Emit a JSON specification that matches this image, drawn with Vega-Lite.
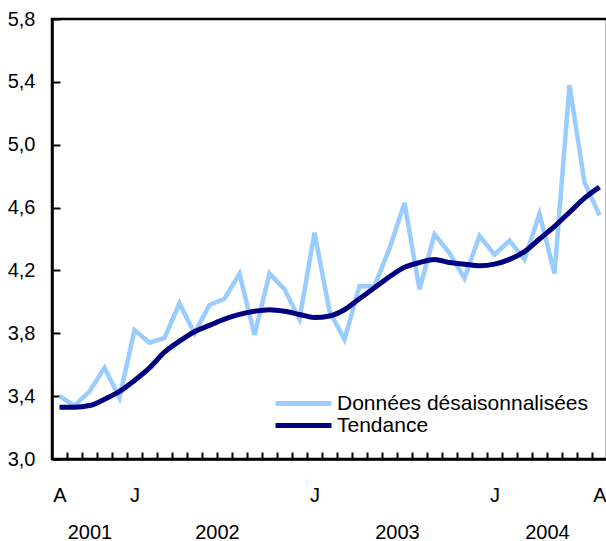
{
  "$schema": "https://vega.github.io/schema/vega-lite/v6.json",
  "autosize": "none",
  "width": 555,
  "height": 440,
  "padding": {"left": 52, "top": 19, "right": 0, "bottom": 82},
  "background": "white",
  "config": {
    "font": "Liberation Sans",
    "view": {"stroke": "black", "strokeWidth": 2.5},
    "axis": {"labelFont": "Liberation Sans", "labelColor": "black", "labelFontSize": 20, "grid": false, "title": null, "domainColor": "black", "tickColor": "black"},
    "legend": {"labelFont": "Liberation Sans"}
  },
  "data": {
    "values": [
      {"mois": "2001-08", "t": 0, "Données désaisonnalisées": 3.40, "Tendance": 3.33},
      {"mois": "2001-09", "t": 1, "Données désaisonnalisées": 3.34, "Tendance": 3.33},
      {"mois": "2001-10", "t": 2, "Données désaisonnalisées": 3.43, "Tendance": 3.34},
      {"mois": "2001-11", "t": 3, "Données désaisonnalisées": 3.58, "Tendance": 3.38},
      {"mois": "2001-12", "t": 4, "Données désaisonnalisées": 3.39, "Tendance": 3.43},
      {"mois": "2002-01", "t": 5, "Données désaisonnalisées": 3.82, "Tendance": 3.50},
      {"mois": "2002-02", "t": 6, "Données désaisonnalisées": 3.74, "Tendance": 3.58},
      {"mois": "2002-03", "t": 7, "Données désaisonnalisées": 3.77, "Tendance": 3.68},
      {"mois": "2002-04", "t": 8, "Données désaisonnalisées": 3.99, "Tendance": 3.75},
      {"mois": "2002-05", "t": 9, "Données désaisonnalisées": 3.80, "Tendance": 3.81},
      {"mois": "2002-06", "t": 10, "Données désaisonnalisées": 3.98, "Tendance": 3.85},
      {"mois": "2002-07", "t": 11, "Données désaisonnalisées": 4.02, "Tendance": 3.89},
      {"mois": "2002-08", "t": 12, "Données désaisonnalisées": 4.18, "Tendance": 3.92},
      {"mois": "2002-09", "t": 13, "Données désaisonnalisées": 3.79, "Tendance": 3.94},
      {"mois": "2002-10", "t": 14, "Données désaisonnalisées": 4.18, "Tendance": 3.95},
      {"mois": "2002-11", "t": 15, "Données désaisonnalisées": 4.08, "Tendance": 3.94},
      {"mois": "2002-12", "t": 16, "Données désaisonnalisées": 3.89, "Tendance": 3.92},
      {"mois": "2003-01", "t": 17, "Données désaisonnalisées": 4.44, "Tendance": 3.90},
      {"mois": "2003-02", "t": 18, "Données désaisonnalisées": 3.94, "Tendance": 3.91},
      {"mois": "2003-03", "t": 19, "Données désaisonnalisées": 3.76, "Tendance": 3.95},
      {"mois": "2003-04", "t": 20, "Données désaisonnalisées": 4.10, "Tendance": 4.02},
      {"mois": "2003-05", "t": 21, "Données désaisonnalisées": 4.10, "Tendance": 4.09},
      {"mois": "2003-06", "t": 22, "Données désaisonnalisées": 4.34, "Tendance": 4.16},
      {"mois": "2003-07", "t": 23, "Données désaisonnalisées": 4.63, "Tendance": 4.22},
      {"mois": "2003-08", "t": 24, "Données désaisonnalisées": 4.08, "Tendance": 4.25},
      {"mois": "2003-09", "t": 25, "Données désaisonnalisées": 4.43, "Tendance": 4.27},
      {"mois": "2003-10", "t": 26, "Données désaisonnalisées": 4.31, "Tendance": 4.25},
      {"mois": "2003-11", "t": 27, "Données désaisonnalisées": 4.15, "Tendance": 4.24},
      {"mois": "2003-12", "t": 28, "Données désaisonnalisées": 4.42, "Tendance": 4.23},
      {"mois": "2004-01", "t": 29, "Données désaisonnalisées": 4.30, "Tendance": 4.24},
      {"mois": "2004-02", "t": 30, "Données désaisonnalisées": 4.39, "Tendance": 4.27},
      {"mois": "2004-03", "t": 31, "Données désaisonnalisées": 4.27, "Tendance": 4.32},
      {"mois": "2004-04", "t": 32, "Données désaisonnalisées": 4.56, "Tendance": 4.40},
      {"mois": "2004-05", "t": 33, "Données désaisonnalisées": 4.18, "Tendance": 4.48},
      {"mois": "2004-06", "t": 34, "Données désaisonnalisées": 5.38, "Tendance": 4.57},
      {"mois": "2004-07", "t": 35, "Données désaisonnalisées": 4.76, "Tendance": 4.66},
      {"mois": "2004-08", "t": 36, "Données désaisonnalisées": 4.55, "Tendance": 4.73}
    ]
  },
  "transform": [
    {"fold": ["Données désaisonnalisées", "Tendance"], "as": ["serie", "valeur"]}
  ],
  "encoding": {
    "y": {
      "field": "valeur",
      "type": "quantitative",
      "scale": {"domain": [3.0, 5.8], "nice": false, "zero": false},
      "axis": {
        "values": [3.0, 3.4, 3.8, 4.2, 4.6, 5.0, 5.4, 5.8],
        "labelExpr": "replace(format(datum.value, '.1f'), '.', ',')",
        "tickSize": -8,
        "tickWidth": 2,
        "labelPadding": 25,
        "domainWidth": 2.5
      }
    },
    "color": {
      "field": "serie",
      "type": "nominal",
      "scale": {"domain": ["Données désaisonnalisées", "Tendance"], "range": ["#99ccff", "#000080"]},
      "legend": {
        "title": null,
        "orient": "none",
        "legendX": 241,
        "legendY": 374,
        "symbolType": "M-6,0H6",
        "symbolSize": 87,
        "symbolStrokeWidth": 5,
        "labelFontSize": 21,
        "labelOffset": 23,
        "labelLimit": 500,
        "rowPadding": 0,
        "labelColor": "black"
      }
    }
  },
  "layer": [
    {
      "transform": [{"filter": "datum.serie == 'Données désaisonnalisées'"}],
      "mark": {"type": "line", "strokeWidth": 4.5, "strokeJoin": "miter"},
      "encoding": {
        "x": {
          "field": "t",
          "type": "quantitative",
          "scale": {"domain": [-0.5, 36.5], "nice": false, "zero": false},
          "axis": {
            "orient": "bottom",
            "values": [0.5, 1.5, 2.5, 3.5, 4.5, 5.5, 6.5, 7.5, 8.5, 9.5, 10.5, 11.5, 12.5, 13.5, 14.5, 15.5, 16.5, 17.5, 18.5, 19.5, 20.5, 21.5, 22.5, 23.5, 24.5, 25.5, 26.5, 27.5, 28.5, 29.5, 30.5, 31.5, 32.5, 33.5, 34.5, 35.5],
            "labels": false,
            "tickSize": -7,
            "tickWidth": 2,
            "domainWidth": 2.5
          }
        }
      }
    },
    {
      "transform": [{"filter": "datum.serie == 'Tendance'"}],
      "mark": {"type": "line", "strokeWidth": 5, "interpolate": "monotone"},
      "encoding": {
        "x": {
          "field": "t",
          "type": "quantitative",
          "scale": {"domain": [-0.5, 36.5], "nice": false, "zero": false},
          "axis": {
            "orient": "bottom",
            "values": [0, 2, 5, 10.5, 17, 22.5, 29, 32.5, 36],
            "labelExpr": "datum.value == 0 || datum.value == 36 ? 'A' : (datum.value == 5 || datum.value == 17 || datum.value == 29) ? 'J' : datum.value == 2 ? ['', '2001'] : datum.value == 10.5 ? ['', '2002'] : datum.value == 22.5 ? ['', '2003'] : ['', '2004']",
            "ticks": false,
            "domain": false,
            "labelPadding": 26,
            "labelLineHeight": 37,
            "labelOverlap": false,
            "labelFlush": false,
            "labelBound": false
          }
        }
      }
    }
  ],
  "resolve": {"axis": {"x": "independent"}}
}
